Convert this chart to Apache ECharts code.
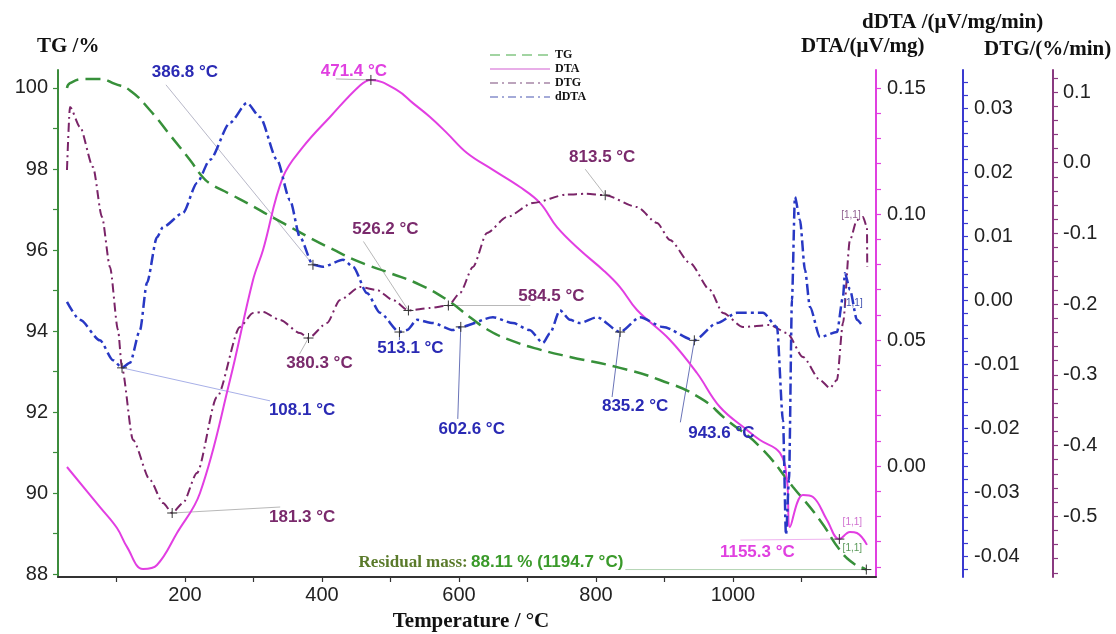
<!DOCTYPE html>
<html><head><meta charset="utf-8">
<script src="https://cdn.jsdelivr.net/npm/echarts@6/dist/echarts.min.js"></script>
<style>html,body{margin:0;padding:0;background:#fff}#c{width:1116px;height:634px}</style>
</head><body><div id="c"></div>
<script>
// ---------- data (temperature in °C) ----------
const tgTemp = [27.7, 32.1, 54.0, 75.9, 97.8, 119.7, 148.9, 178.1, 207.3, 224.8, 236.5, 265.7, 294.9, 324.1, 353.3, 382.5, 411.7, 455.5, 499.3, 543.1, 582.5, 616.1, 645.3, 678.8, 718.2, 762.0, 835.0, 893.4, 951.8, 991.2, 1039.4, 1087.6, 1127.0, 1156.2, 1175.2, 1189.8, 1194.7];
const tgVal  = [100.0, 100.12, 100.22, 100.22, 100.10, 99.94, 99.45, 98.84, 98.22, 97.82, 97.64, 97.38, 97.12, 96.84, 96.57, 96.30, 96.05, 95.70, 95.43, 95.14, 94.77, 94.34, 94.00, 93.75, 93.54, 93.36, 93.09, 92.79, 92.35, 91.80, 91.14, 90.15, 89.33, 88.59, 88.27, 88.15, 88.11];

const dtaTemp = [27.7, 75.9, 100.7, 115.3, 138.7, 159.1, 188.3, 221.9, 265.7, 299.3, 313.9, 343.1, 372.3, 411.7, 455.5, 471.4, 509.5, 532.8, 557.7, 582.5, 611.7, 649.6, 689.1, 718.2, 743.1, 776.6, 810.2, 835.0, 859.9, 908.0, 947.4, 981.0, 1020.4, 1039.4, 1068.6, 1078.8, 1083.2, 1102.2, 1116.8, 1137.2, 1155.3, 1170.8, 1181.0, 1195.6];
const dtaVal  = [-0.0004, -0.0163, -0.0246, -0.0321, -0.0409, -0.0393, -0.0266, -0.0107, 0.0341, 0.0738, 0.0857, 0.1147, 0.1266, 0.1385, 0.1510, 0.1532, 0.1492, 0.1440, 0.1385, 0.1321, 0.1242, 0.1175, 0.1107, 0.1044, 0.0948, 0.0857, 0.0778, 0.0710, 0.0619, 0.0500, 0.0369, 0.0234, 0.0143, 0.0103, 0.0052, -0.0056, -0.0242, -0.0115, -0.0123, -0.0214, -0.0290, -0.0262, -0.0266, -0.0313];

const dtgTemp = [27.7, 32.1, 46.7, 65.7, 78.8, 90.5, 102.2, 108.0, 124.1, 148.9, 167.9, 181.3, 197.1, 217.5, 246.7, 280.3, 299.3, 313.9, 338.7, 367.9, 380.3, 407.3, 426.3, 455.5, 480.3, 503.6, 526.2, 557.7, 584.5, 601.5, 620.4, 640.9, 670.1, 708.0, 757.7, 785.0, 813.5, 859.9, 889.1, 908.0, 937.2, 966.4, 985.4, 1014.6, 1054.0, 1078.8, 1102.2, 1127.0, 1141.6, 1151.8, 1160.6, 1170.8, 1181.0, 1189.8, 1195.6, 1196.0];
const dtgVal  = [-0.0103, 0.0788, 0.0505, -0.0061, -0.0768, -0.1475, -0.2366, -0.2904, -0.3922, -0.4488, -0.4813, -0.4955, -0.4813, -0.4389, -0.3314, -0.2324, -0.2126, -0.2112, -0.2225, -0.2409, -0.2480, -0.2267, -0.1942, -0.1758, -0.1801, -0.1942, -0.2090, -0.2055, -0.2020, -0.1843, -0.1475, -0.0994, -0.0768, -0.0570, -0.0450, -0.0440, -0.0460, -0.0627, -0.0853, -0.1093, -0.1419, -0.1801, -0.2126, -0.2324, -0.2296, -0.2409, -0.2748, -0.3074, -0.3187, -0.3074, -0.2267, -0.1093, -0.0810, -0.0768, -0.0909, -0.1475];

const ddtaTemp = [27.7, 46.7, 75.9, 94.9, 108.1, 119.7, 134.3, 144.5, 159.1, 167.9, 197.1, 217.5, 236.5, 265.7, 290.5, 309.5, 334.3, 353.3, 367.9, 386.8, 401.5, 430.7, 445.3, 465.7, 484.7, 513.1, 524.1, 538.7, 562.0, 591.2, 602.6, 649.6, 678.8, 703.0, 722.6, 732.8, 747.4, 762.0, 776.6, 801.5, 835.2, 864.2, 897.8, 943.6, 976.6, 1005.8, 1043.8, 1064.2, 1073.0, 1077.4, 1081.8, 1086.1, 1090.5, 1097.8, 1105.1, 1112.4, 1127.0, 1151.8, 1160.6, 1163.5, 1170.8, 1181.0, 1189.8];
const ddtaVal  = [-0.0003, -0.0031, -0.0063, -0.0094, -0.0106, -0.0098, -0.0047, 0.0027, 0.0098, 0.0114, 0.0136, 0.0183, 0.0219, 0.0277, 0.0308, 0.0286, 0.0219, 0.0156, 0.0098, 0.0055, 0.0052, 0.0063, 0.0052, 0.0011, -0.0020, -0.0050, -0.0047, -0.0031, -0.0036, -0.0047, -0.0042, -0.0027, -0.0036, -0.0047, -0.0067, -0.0052, -0.0016, -0.0031, -0.0036, -0.0027, -0.0050, -0.0027, -0.0042, -0.0063, -0.0036, -0.0020, -0.0020, -0.0042, -0.0188, -0.0367, -0.0281, 0.0000, 0.0161, 0.0125, 0.0047, -0.0011, -0.0058, -0.0050, 0.0005, 0.0042, 0.0016, -0.0031, -0.0042];

// ---------- tick labels ----------
const xTickLabels    = [200, 400, 600, 800, 1000];
const tgTickLabels   = [88, 90, 92, 94, 96, 98, 100];
const dtaTickLabels  = [0.00, 0.05, 0.10, 0.15];
const ddtaTickLabels = [-0.04, -0.03, -0.02, -0.01, 0.00, 0.01, 0.02, 0.03];
const dtgTickLabels  = [-0.5, -0.4, -0.3, -0.2, -0.1, 0.0, 0.1];

function steps(a, b, s, d) { const r = []; for (let i = 0; a + i * s <= b + 1e-9; i++) r.push(+(a + i * s).toFixed(d)); return r; }
const xTicks    = steps(100, 1100, 100, 0);
const tgTicks   = steps(88, 100, 1, 0);
const dtaTicks  = steps(-0.04, 0.15, 0.01, 2);
const ddtaTicks = steps(-0.042, 0.034, 0.002, 3);
const dtgTicks  = steps(-0.58, 0.12, 0.02, 2);

const zip = (a, b) => a.map((t, i) => [t, b[i]]);

const C = { tg: '#37903a', dta: '#e23ee2', dtg: '#7a2468', ddta: '#2838c4',
            tgAx: '#3c8c3c', dtaAx: '#e040e0', ddtaAx: '#3a3ad0', dtgAx: '#8a3a80' };
const numFont = 'Arial, "Liberation Sans", sans-serif';
const serif = '"Times New Roman", "Liberation Serif", serif';

function yAxisCfg(o) {
  return {
    type: 'value', position: o.pos, offset: o.offset || 0, min: o.min, max: o.max,
    axisLine: { show: true, onZero: false, lineStyle: { color: o.color, width: 2 } },
    axisTick: { show: true, customValues: o.ticks, length: 5, lineStyle: { color: o.color, width: 1.2 } },
    axisLabel: { customValues: o.labels, color: '#222', fontSize: 20, fontFamily: numFont, margin: o.margin,
                 formatter: v => (+v).toFixed(o.dec) },
    splitLine: { show: false }
  };
}

const chart = echarts.init(document.getElementById('c'), null, { renderer: 'canvas' });
const legendItem = (name, color, type) => ({ name, lineStyle: { color, type, width: 2 }, itemStyle: { opacity: 0 } });
const option = {
  backgroundColor: '#fff',
  animation: false,
  grid: { left: 58, right: 240, top: 70, bottom: 57, containLabel: false, outerBoundsMode: 'none' },
  legend: {
    left: 484, top: 44, orient: 'vertical', itemWidth: 60, itemHeight: 12, itemGap: 2,
    textStyle: { fontFamily: serif, fontWeight: 'bold', fontSize: 12, color: '#111' },
    data: [
      legendItem('TG', '#a2d4a2', [10, 6]),
      legendItem('DTA', '#e8aee8', 'solid'),
      legendItem('DTG', '#bca4bc', [8, 4, 2, 4]),
      legendItem('dDTA', '#a4aad8', [8, 4, 2, 4])
    ]
  },
  xAxis: {
    type: 'value', min: 14.6, max: 1208.8,
    axisLine: { show: true, onZero: false, lineStyle: { color: '#333', width: 2 } },
    axisTick: { show: true, customValues: xTicks, length: 5, lineStyle: { color: '#333', width: 1.2 } },
    axisLabel: { customValues: xTickLabels, color: '#222', fontSize: 20, fontFamily: numFont, margin: 8, formatter: v => String(Math.round(v)) },
    splitLine: { show: false }
  },
  yAxis: [
    yAxisCfg({ pos: 'left', min: 87.926, max: 100.444, color: C.tgAx, ticks: tgTicks, labels: tgTickLabels, dec: 0, margin: 10 }),
    yAxisCfg({ pos: 'right', min: -0.04405, max: 0.15714, color: C.dtaAx, ticks: dtaTicks, labels: dtaTickLabels, dec: 2, margin: 11 }),
    yAxisCfg({ pos: 'right', offset: 87, min: -0.04328, max: 0.03594, color: C.ddtaAx, ticks: ddtaTicks, labels: ddtaTickLabels, dec: 2, margin: 11 }),
    yAxisCfg({ pos: 'right', offset: 177, min: -0.586, max: 0.1311, color: C.dtgAx, ticks: dtgTicks, labels: dtgTickLabels, dec: 1, margin: 10 })
  ],
  series: [
    { name: 'TG', type: 'line', yAxisIndex: 0, data: zip(tgTemp, tgVal), symbol: 'none', smooth: 0.5,
      itemStyle: { color: C.tg }, lineStyle: { color: C.tg, width: 2.5, type: [15, 7] }, z: 3 },
    { name: 'DTA', type: 'line', yAxisIndex: 1, data: zip(dtaTemp, dtaVal), symbol: 'none', smooth: 0.4,
      itemStyle: { color: C.dta }, lineStyle: { color: C.dta, width: 2 }, z: 4 },
    { name: 'DTG', type: 'line', yAxisIndex: 3, data: zip(dtgTemp, dtgVal), symbol: 'none', smooth: 0.25, smoothMonotone: 'x',
      itemStyle: { color: C.dtg }, lineStyle: { color: C.dtg, width: 2, type: [9, 4, 2, 4] }, z: 5 },
    { name: 'dDTA', type: 'line', yAxisIndex: 2, data: zip(ddtaTemp, ddtaVal), symbol: 'none', smooth: 0.25, smoothMonotone: 'x',
      itemStyle: { color: C.ddta }, lineStyle: { color: C.ddta, width: 2.5, type: [11, 4, 3, 4] }, z: 6 }
  ]
};
chart.setOption(option);

// ---------- annotations (anchored on data, label offsets in px) ----------
const S = { TG: 0, DTA: 1, DTG: 2, dDTA: 3 };
const blueT = '#2a2ab4', purpT = '#7a2a6c', magT = '#e040e0';
const annots = [
  { t: '386.8 °C', s: S.dDTA, T: 386.8, v: 0.0055, dx: -128, dy: -193, lx: -147, ly: -180, c: blueT, lc: '#b8b8c8' },
  { t: '471.4 °C', s: S.DTA, T: 471.4, v: 0.1532, dx: -17, dy: -9, lx: -35, ly: -1, c: magT, lc: '#b0b0b0' },
  { t: '813.5 °C', s: S.DTG, T: 813.5, v: -0.046, dx: -3, dy: -38, lx: -20, ly: -26, c: purpT, lc: '#b8b8b8' },
  { t: '526.2 °C', s: S.DTG, T: 526.2, v: -0.209, dx: -23, dy: -81, lx: -45, ly: -69, c: purpT, lc: '#b8b8b8' },
  { t: '584.5 °C', s: S.DTG, T: 584.5, v: -0.202, dx: 103, dy: -9, lx: 82, ly: 0, c: purpT, lc: '#b8b8b8' },
  { t: '380.3 °C', s: S.DTG, T: 380.3, v: -0.248, dx: 11, dy: 25, lx: -9, ly: 16, c: purpT, lc: '#b8b8b8' },
  { t: '513.1 °C', s: S.dDTA, T: 513.1, v: -0.005, dx: 11, dy: 16, lx: 0, ly: 8, c: blueT, lc: '#6a74b8' },
  { t: '108.1 °C', s: S.dDTA, T: 108.1, v: -0.0106, dx: 180, dy: 42, lx: 148, ly: 33, c: blueT, lc: '#a8b0e8' },
  { t: '602.6 °C', s: S.dDTA, T: 602.6, v: -0.0042, dx: 11, dy: 102, lx: -3, ly: 92, c: blueT, lc: '#6a74b8' },
  { t: '835.2 °C', s: S.dDTA, T: 835.2, v: -0.0050, dx: 15, dy: 74, lx: -8, ly: 65, c: blueT, lc: '#6a74b8' },
  { t: '943.6 °C', s: S.dDTA, T: 943.6, v: -0.0063, dx: 27, dy: 93, lx: -14, ly: 82, c: blueT, lc: '#6a74b8' },
  { t: '181.3 °C', s: S.DTG, T: 181.3, v: -0.4955, dx: 130, dy: 4, lx: 108, ly: -6, c: purpT, lc: '#b8b8b8' },
  { t: '1155.3 °C', s: S.DTA, T: 1155.3, v: -0.0290, dx: -82, dy: 13, lx: -99, ly: 1, c: magT, lc: '#f0b4f0' },
  { t: 'RES', s: S.TG, T: 1194.7, v: 88.11, dx: -243, dy: -7, lx: -241, ly: 0, c: '#3a8a2a', lc: '#b4d4b4', align: 'right' }
];
const smallTags = [
  { s: S.DTA, T: 1155.3, v: -0.0290, dx: 13, dy: -17, c: '#d070d0' },
  { s: S.TG, T: 1194.7, v: 88.11, dx: -14, dy: -21, c: '#5a9a5a' },
  { s: S.DTG, T: 1181.0, v: -0.081, dx: -6, dy: -5, c: '#906090' },
  { s: S.dDTA, T: 1163.5, v: 0.0042, dx: 8, dy: 30, c: '#4050b0' }
];

const g = [];
function cross(p) {
  g.push({ type: 'line', silent: true, z: 70, shape: { x1: p[0] - 5, y1: p[1], x2: p[0] + 5, y2: p[1] }, style: { stroke: '#333', lineWidth: 1 } });
  g.push({ type: 'line', silent: true, z: 70, shape: { x1: p[0], y1: p[1] - 5, x2: p[0], y2: p[1] + 5 }, style: { stroke: '#333', lineWidth: 1 } });
}
annots.forEach(a => {
  const p = chart.convertToPixel({ seriesIndex: a.s }, [a.T, a.v]);
  g.push({ type: 'line', silent: true, z: 2, shape: { x1: p[0], y1: p[1], x2: p[0] + a.lx, y2: p[1] + a.ly }, style: { stroke: a.lc, lineWidth: 1 } });
  cross(p);
  if (a.t === 'RES') {
    g.push({ type: 'text', silent: true, z: 80, x: p[0] + a.dx, y: p[1] + a.dy, style: {
      text: '{a|Residual mass:} {b|88.11 % (1194.7 °C)}', align: 'right', verticalAlign: 'middle',
      rich: { a: { fill: '#5a7a2a', font: 'bold 17px ' + serif }, b: { fill: '#3a9a2a', font: 'bold 17px ' + numFont } } } });
  } else {
    g.push({ type: 'text', silent: true, z: 80, x: p[0] + a.dx, y: p[1] + a.dy, style: {
      text: a.t, fill: a.c, font: 'bold 17px ' + numFont, align: a.align || 'center', verticalAlign: 'middle' } });
  }
});
smallTags.forEach(a => {
  const p = chart.convertToPixel({ seriesIndex: a.s }, [a.T, a.v]);
  g.push({ type: 'text', silent: true, z: 80, x: p[0] + a.dx, y: p[1] + a.dy, style: {
    text: '[1,1]', fill: a.c, font: '10px ' + numFont, align: 'center', verticalAlign: 'middle' } });
});

// axis titles
const titles = [
  { t: 'TG /%', x: 37, y: 47, align: 'left' },
  { t: 'dDTA /(μV/mg/min)', x: 862, y: 23, align: 'left' },
  { t: 'DTA/(μV/mg)', x: 801, y: 47, align: 'left' },
  { t: 'DTG/(%/min)', x: 984, y: 50, align: 'left' },
  { t: 'Temperature / °C', x: 471, y: 622, align: 'center' }
];
titles.forEach(o => g.push({ type: 'text', silent: true, z: 80, x: o.x, y: o.y, style: {
  text: o.t, fill: '#111', font: 'bold 21px ' + serif, align: o.align, verticalAlign: 'middle' } }));

chart.setOption({ graphic: g });
</script></body></html>
